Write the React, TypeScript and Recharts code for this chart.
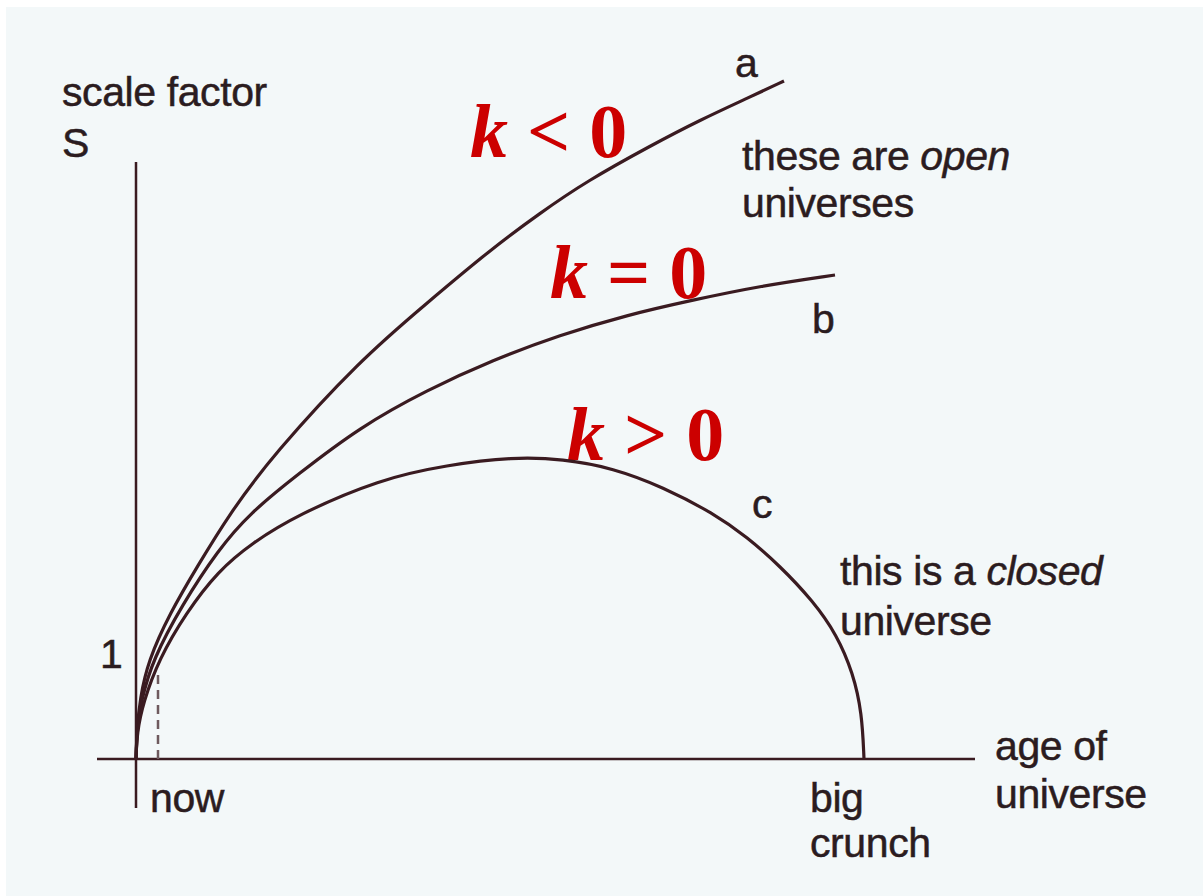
import { LineChart, Line, XAxis, YAxis, ReferenceLine } from 'recharts';

// age and scale factor, in arbitrary units (origin at the axes crossing)
const curveA = [
  { age: 0, s: 0 }, { age: 1, s: 30 }, { age: 4, s: 60 }, { age: 12, s: 98 },
  { age: 34, s: 146 }, { age: 61, s: 192 }, { age: 94, s: 246 }, { age: 137, s: 304 },
  { age: 224, s: 399 }, { age: 291, s: 456 }, { age: 354, s: 509 },
  { age: 404, s: 546 }, { age: 451, s: 578 }, { age: 514, s: 613 }, { age: 564, s: 639 },
  { age: 614, s: 662 }, { age: 648, s: 678 },
];

const curveB = [
  { age: 0, s: 0 }, { age: 1, s: 28 }, { age: 5, s: 58 }, { age: 17, s: 100 },
  { age: 46, s: 154 }, { age: 82, s: 209 }, { age: 114, s: 246 }, { age: 161, s: 284 },
  { age: 224, s: 332 }, { age: 291, s: 369 }, { age: 357, s: 399 }, { age: 424, s: 424 },
  { age: 491, s: 444 }, { age: 557, s: 459 }, { age: 624, s: 473 }, { age: 699, s: 484 },
];

const curveC = [
  { age: 0, s: 0 }, { age: 1, s: 26 }, { age: 7, s: 56 }, { age: 23, s: 100 },
  { age: 50, s: 146 }, { age: 82, s: 188 }, { age: 116, s: 216 }, { age: 161, s: 244 },
  { age: 244, s: 280 }, { age: 311, s: 294 }, { age: 377, s: 302 }, { age: 427, s: 300 },
  { age: 477, s: 291 }, { age: 527, s: 272 }, { age: 577, s: 246 }, { age: 611, s: 222 },
  { age: 644, s: 193 }, { age: 677, s: 158 }, { age: 701, s: 124 }, { age: 717, s: 86 },
  { age: 726, s: 46 }, { age: 728, s: 0 },
];

const nowAge = 22;
const nowMarkTop = 84;

const ink = '#2b1c20';
const lineInk = '#3a1b21';
const red = '#cc0000';

const sans = '"Liberation Sans", Arial, sans-serif';
const serif = '"Liberation Serif", "Times New Roman", serif';

function Txt({ x, y, children, italicPart }: { x: number; y: number; children: string; italicPart?: string }) {
  return (
    <text x={x} y={y} fontFamily={sans} fontSize={41} fill={ink} stroke={ink} strokeWidth={0.5} letterSpacing={-0.4}>
      {children}
      {italicPart ? <tspan fontStyle="italic">{italicPart}</tspan> : null}
    </text>
  );
}

function KLabel({ x, y, op }: { x: number; y: number; op: string }) {
  return (
    <text x={x} y={y} fontFamily={serif} fontSize={76} fontWeight="bold" fill={red}>
      <tspan fontStyle="italic">k</tspan>
      {` ${op} 0`}
    </text>
  );
}

export default function App() {
  return (
    <div style={{ position: 'absolute', left: 0, top: 0, width: 1203, height: 896, background: '#ffffff' }}>
      <div style={{ position: 'absolute', left: 6, top: 7, right: 0, bottom: 0, background: '#f3f8f9' }} />
      <div style={{ position: 'absolute', left: 0, top: 0 }}>
        <LineChart width={1203} height={896} margin={{ top: 0, right: 0, bottom: 0, left: 0 }}>
          <XAxis type="number" dataKey="age" domain={[-136, 1067]} allowDataOverflow hide />
          <YAxis type="number" dataKey="s" domain={[-137, 759]} allowDataOverflow hide />

          <ReferenceLine segment={[{ x: 0, y: -49 }, { x: 0, y: 597 }]} stroke={lineInk} strokeWidth={2.5} ifOverflow="visible" />
          <ReferenceLine segment={[{ x: -39, y: 0 }, { x: 839, y: 0 }]} stroke={lineInk} strokeWidth={2.5} ifOverflow="visible" />
          <ReferenceLine
            segment={[{ x: nowAge, y: 0 }, { x: nowAge, y: nowMarkTop }]}
            stroke="#6e5a5e"
            strokeWidth={2.5}
            strokeDasharray="9 6"
            ifOverflow="visible"
          />

          <Line data={curveA} dataKey="s" type="basis" stroke={lineInk} strokeWidth={3.2} dot={false} activeDot={false} isAnimationActive={false} />
          <Line data={curveB} dataKey="s" type="basis" stroke={lineInk} strokeWidth={3.2} dot={false} activeDot={false} isAnimationActive={false} />
          <Line data={curveC} dataKey="s" type="basis" stroke={lineInk} strokeWidth={3.2} dot={false} activeDot={false} isAnimationActive={false} />

          <g>
            <Txt x={62} y={106}>scale factor</Txt>
            <Txt x={62} y={157}>S</Txt>
            <Txt x={735} y={77}>a</Txt>
            <Txt x={742} y={170} italicPart="open">{'these are '}</Txt>
            <Txt x={742} y={217}>universes</Txt>
            <Txt x={812} y={333}>b</Txt>
            <Txt x={752} y={518}>c</Txt>
            <Txt x={840} y={585} italicPart="closed">{'this is a '}</Txt>
            <Txt x={840} y={635}>universe</Txt>
            <Txt x={100} y={668}>1</Txt>
            <Txt x={150} y={812}>now</Txt>
            <Txt x={995} y={760}>age of</Txt>
            <Txt x={995} y={808}>universe</Txt>
            <Txt x={810} y={812}>big</Txt>
            <Txt x={810} y={857}>crunch</Txt>
            <KLabel x={470} y={157} op="<" />
            <KLabel x={550} y={298} op="=" />
            <KLabel x={567} y={460} op=">" />
          </g>
        </LineChart>
      </div>
    </div>
  );
}
